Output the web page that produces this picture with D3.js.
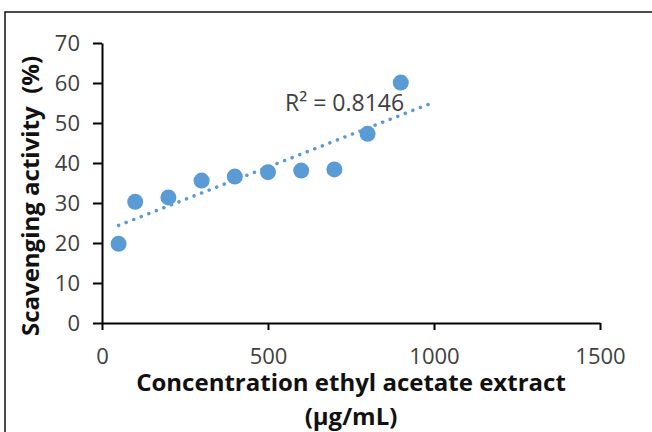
<!DOCTYPE html>
<html>
<head>
<meta charset="utf-8">
<script src="https://cdn.jsdelivr.net/npm/d3@7"></script>
<style>
  body { margin: 0; background: #fff; }
  text { font-family: "Open Sans", Lato, sans-serif; }
</style>
</head>
<body>
<div id="chart"></div>
<script>
// data
var concentration = [50, 100, 200, 300, 400, 500, 600, 700, 800, 900];
var scavenging = [19.8, 30.3, 31.4, 35.6, 36.6, 37.7, 38.1, 38.4, 47.3, 60.1];
var xTicks = [0, 500, 1000, 1500];
var yTicks = [0, 10, 20, 30, 40, 50, 60, 70];
var trendSpan = [50, 1000];
var r2Label = "R² = 0.8146";

var width = 652,
    height = 432;

var svg = d3.select("#chart")
    .append("svg")
    .attr("width", width)
    .attr("height", height);

// outer frame (runs off the right and bottom edge)
svg.append("rect")
    .attr("x", 5)
    .attr("y", 12)
    .attr("width", 700)
    .attr("height", 500)
    .attr("fill", "none")
    .attr("stroke", "#111")
    .attr("stroke-width", 1.5);

var x = d3.scaleLinear().domain([0, 1500]).range([102, 600]);
var y = d3.scaleLinear().domain([0, 70]).range([323, 43]);

var tickColor = "#404040";
var font = "'Open Sans', Lato, sans-serif";

// Y axis
var yAxis = svg.append("g")
    .attr("transform", "translate(" + x(0) + ",0)")
    .call(d3.axisLeft(y).tickValues(yTicks).tickSize(9).tickSizeOuter(0).tickPadding(13));

// X axis
var xAxis = svg.append("g")
    .attr("transform", "translate(0," + y(0) + ")")
    .call(d3.axisBottom(x).tickValues(xTicks).tickFormat(d3.format("d")).tickSize(7).tickSizeOuter(0));

[yAxis, xAxis].forEach(function(g) {
    g.select(".domain").attr("stroke", "#000").attr("stroke-width", 2);
    g.selectAll(".tick line").attr("stroke", "#000").attr("stroke-width", 2);
    g.selectAll(".tick text")
        .attr("font-size", 22)
        .attr("font-family", font)
        .attr("fill", tickColor);
});
yAxis.selectAll(".tick text").attr("dy", "0.34em");
xAxis.selectAll(".tick text").attr("y", 41).attr("dy", 0);

// points
svg.append("g")
    .selectAll("circle")
    .data(concentration)
    .enter()
    .append("circle")
        .attr("cx", function(d) { return x(d); })
        .attr("cy", function(d, i) { return y(scavenging[i]); })
        .attr("r", 8)
        .attr("fill", "#5B9BD5");

// linear trendline (least squares on the points)
var mx = d3.mean(concentration),
    my = d3.mean(scavenging);
var sxy = d3.sum(concentration, function(d, i) { return (d - mx) * (scavenging[i] - my); });
var sxx = d3.sum(concentration, function(d) { return (d - mx) * (d - mx); });
var slope = sxy / sxx,
    intercept = my - slope * mx;

svg.append("path")
    .datum(trendSpan)
    .attr("d", d3.line()
        .x(function(d) { return x(d); })
        .y(function(d) { return y(intercept + slope * d); }))
    .attr("fill", "none")
    .attr("stroke", "#5B9BD5")
    .attr("stroke-width", 3.5)
    .attr("stroke-linecap", "round")
    .attr("stroke-dasharray", "0.1 8");

svg.append("text")
    .attr("x", 285)
    .attr("y", 111)
    .text(r2Label)
    .attr("font-size", 23)
    .attr("fill", tickColor);

// axis titles
svg.append("text")
    .attr("x", 351)
    .attr("y", 391)
    .attr("text-anchor", "middle")
    .attr("font-size", 24)
    .attr("font-weight", "bold")
    .attr("fill", "#111")
    .text("Concentration ethyl acetate extract");

svg.append("text")
    .attr("x", 351)
    .attr("y", 425)
    .attr("text-anchor", "middle")
    .attr("font-size", 24)
    .attr("font-weight", "bold")
    .attr("fill", "#111")
    .text("(µg/mL)");

svg.append("text")
    .attr("transform", "translate(39,196) rotate(-90)")
    .attr("text-anchor", "middle")
    .attr("font-size", 24)
    .attr("font-weight", "bold")
    .attr("fill", "#111")
    .style("white-space", "pre")
    .text("Scavenging activity  (%)");
</script>
</body>
</html>
